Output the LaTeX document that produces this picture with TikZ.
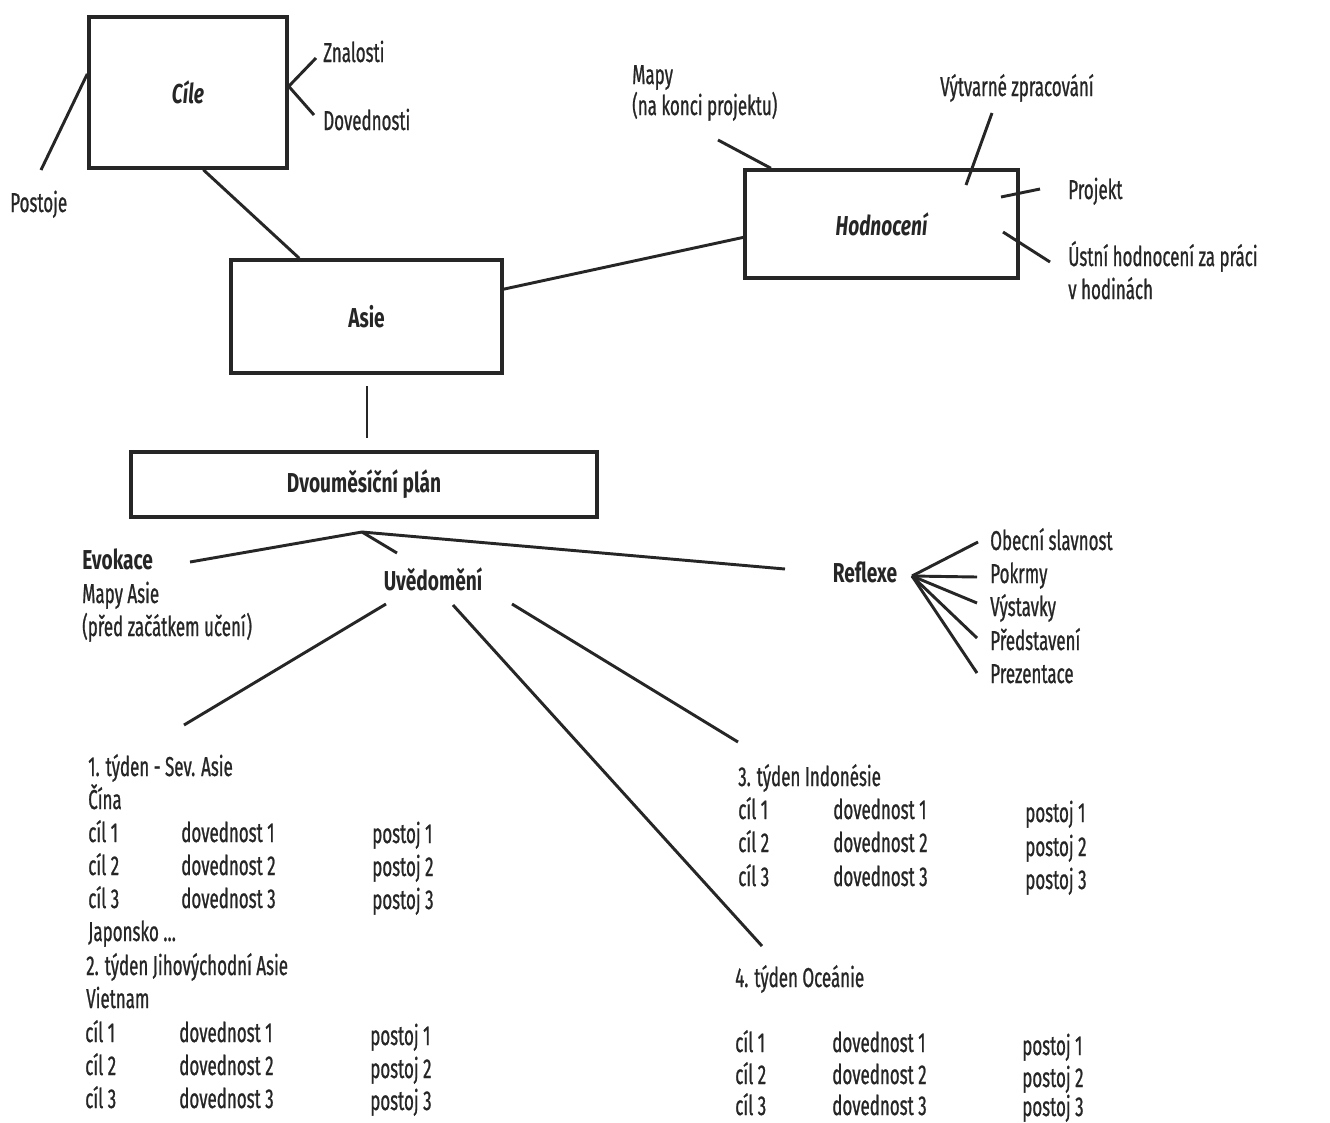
\documentclass[tikz,border=0pt]{standalone}
\usepackage{fontspec}
\setmainfont{Fira Sans}[
  UprightFeatures={FakeStretch=0.62,FakeBold=0.8},
  ItalicFeatures={FakeStretch=0.62},
  BoldFeatures={FakeStretch=0.70},
  BoldItalicFeatures={FakeStretch=0.70}]
\usetikzlibrary{calc}
\definecolor{ink}{HTML}{262626}
\newcommand{\fsz}{\fontsize{20.5}{24}\selectfont}
\begin{document}
\begin{tikzpicture}[x=0.75pt,y=-0.75pt,
  box/.style={draw=ink, line width=2.6pt, inner sep=0pt, text=ink},
  conn/.style={draw=ink, line width=2.2pt},
  lbl/.style={anchor=base west, inner sep=0pt, text=ink, font=\fsz},
  blbl/.style={anchor=base, inner sep=0pt, text=ink, font=\fsz\bfseries},
  bwlbl/.style={anchor=base west, inner sep=0pt, text=ink, font=\fsz\bfseries}]
\fill[white] (0,0) rectangle (1330,1122);
\useasboundingbox (0,0) rectangle (1330,1122);

% ---- boxes
\node[box, minimum width=148.5pt, minimum height=113.25pt, font=\fsz\bfseries\itshape] (cile) at (188,92.5) {Cíle};
\node[box, minimum width=203.25pt, minimum height=84.75pt, font=\fsz\bfseries] (asie) at (366.5,316.5) {Asie};
\node[box, minimum width=204.75pt, minimum height=81pt, font=\fsz\bfseries\itshape] (hodn) at (881.5,224) {Hodnocení};
\node[box, minimum width=349.5pt, minimum height=48.75pt, font=\fsz\bfseries] (plan) at (364,484.5) {Dvouměsíční plán};

% ---- labels around Cíle
\node[lbl] (znal) at (323,62) {Znalosti};
\node[lbl] (dove) at (323,130) {Dovednosti};
\node[lbl] (post) at (10,212) {Postoje};
\coordinate (znalE) at (316,58);
\coordinate (doveE) at (314,115);
\coordinate (postE) at (41,170);
\draw[conn] ($(cile.north east)!0.46!(cile.south east)$) -- (znalE);
\draw[conn] ($(cile.north east)!0.46!(cile.south east)$) -- (doveE);
\draw[conn] ($(cile.north west)!0.38!(cile.south west)$) -- (postE);
\draw[conn] ($(cile.south west)!0.576!(cile.south east)$) -- ($(asie.north west)!0.255!(asie.north east)$);

% ---- Hodnocení
\draw[conn] ($(asie.north east)!0.265!(asie.south east)$) -- ($(hodn.north west)!0.62!(hodn.south west)$);
\node[lbl] (mapy) at (632,84) {Mapy};
\node[lbl] (mapy2) at (632,115) {(na konci projektu)};
\node[lbl] (vytv) at (940,96) {Výtvarné zpracování};
\node[lbl] (proj) at (1068,199) {Projekt};
\node[lbl] (ustn) at (1068,266) {Ústní hodnocení za práci};
\node[lbl] (ustn2) at (1068,299) {v hodinách};
\coordinate (mapyE) at (718,140);
\draw[conn] (mapyE) -- ($(hodn.north west)!0.10!(hodn.north east)$);
\coordinate (vytvA) at (992,113);
\coordinate (vytvB) at (966,185);
\draw[conn] (vytvA) -- (vytvB);
\coordinate (projA) at (1001,197);
\coordinate (projB) at (1040,189);
\draw[conn] (projA) -- (projB);
\coordinate (ustnA) at (1003,232);
\coordinate (ustnB) at (1050,262);
\draw[conn] (ustnA) -- (ustnB);

% ---- Asie to plan
\coordinate (asieD) at (367,386);
\coordinate (planU) at (367,438);
\draw[conn] (asieD) -- (planU);

% ---- below plan
\coordinate (hubP) at (362,532);
\node[bwlbl] (evok) at (82,569) {Evokace};
\node[lbl] (evok2) at (82,603) {Mapy Asie};
\node[lbl] (evok3) at (82,636) {(před začátkem učení)};
\node[blbl] (uved) at (433,590) {Uvědomění};
\node[blbl] (refl) at (865,582) {Reflexe};
\coordinate (evokE) at (190,562);
\coordinate (uvedE) at (397,553);
\coordinate (reflE) at (785,569);
\draw[conn] (hubP) -- (evokE);
\draw[conn] (hubP) -- (uvedE);
\draw[conn] (hubP) -- (reflE);

% ---- Reflexe fan
\coordinate (fan) at (912,576);
\node[lbl] (r1) at (990,550) {Obecní slavnost};
\node[lbl] (r2) at (990,583) {Pokrmy};
\node[lbl] (r3) at (990,616) {Výstavky};
\node[lbl] (r4) at (990,650) {Představení};
\node[lbl] (r5) at (990,683) {Prezentace};
\coordinate (r1e) at (978,542);
\coordinate (r2e) at (977,577);
\coordinate (r3e) at (977,603);
\coordinate (r4e) at (977,638);
\coordinate (r5e) at (977,673);
\foreach \e in {r1e,r2e,r3e,r4e,r5e} \draw[conn] (fan) -- (\e);

% ---- Uvědomění branches
\coordinate (uvA) at (386,604);
\coordinate (uvA2) at (184,725);
\coordinate (uvB) at (453,605);
\coordinate (uvB2) at (762,946);
\coordinate (uvC) at (512,604);
\coordinate (uvC2) at (738,742);
\draw[conn] (uvA) -- (uvA2);
\draw[conn] (uvB) -- (uvB2);
\draw[conn] (uvC) -- (uvC2);

% ---- week 1 & 2
\node[lbl] (w1) at (88,776) {1. týden - Sev. Asie};
\node[lbl] (w1a) at (88,809) {Čína};
\node[lbl] (w1c1) at (88,842) {cíl 1};
\node[lbl] (w1d1) at (181,842) {dovednost 1};
\node[lbl] (w1p1) at (372,843) {postoj 1};
\node[lbl] (w1c2) at (88,875) {cíl 2};
\node[lbl] (w1d2) at (181,875) {dovednost 2};
\node[lbl] (w1p2) at (372,876) {postoj 2};
\node[lbl] (w1c3) at (88,908) {cíl 3};
\node[lbl] (w1d3) at (181,908) {dovednost 3};
\node[lbl] (w1p3) at (372,909) {postoj 3};
\node[lbl] (w1j) at (88,941) {Japonsko \dots};
\node[lbl] (w2) at (86,975) {2. týden Jihovýchodní Asie};
\node[lbl] (w2a) at (86,1008) {Vietnam};
\node[lbl] (w2c1) at (85,1042) {cíl 1};
\node[lbl] (w2d1) at (179,1042) {dovednost 1};
\node[lbl] (w2p1) at (370,1045) {postoj 1};
\node[lbl] (w2c2) at (85,1075) {cíl 2};
\node[lbl] (w2d2) at (179,1075) {dovednost 2};
\node[lbl] (w2p2) at (370,1078) {postoj 2};
\node[lbl] (w2c3) at (85,1108) {cíl 3};
\node[lbl] (w2d3) at (179,1108) {dovednost 3};
\node[lbl] (w2p3) at (370,1110) {postoj 3};

% ---- week 3
\node[lbl] (w3) at (738,786) {3. týden Indonésie};
\node[lbl] (w3c1) at (738,819) {cíl 1};
\node[lbl] (w3d1) at (833,819) {dovednost 1};
\node[lbl] (w3p1) at (1025,822) {postoj 1};
\node[lbl] (w3c2) at (738,852) {cíl 2};
\node[lbl] (w3d2) at (833,852) {dovednost 2};
\node[lbl] (w3p2) at (1025,856) {postoj 2};
\node[lbl] (w3c3) at (738,886) {cíl 3};
\node[lbl] (w3d3) at (833,886) {dovednost 3};
\node[lbl] (w3p3) at (1025,889) {postoj 3};

% ---- week 4
\node[lbl] (w4) at (735,987) {4. týden Oceánie};
\node[lbl] (w4c1) at (735,1052) {cíl 1};
\node[lbl] (w4d1) at (832,1052) {dovednost 1};
\node[lbl] (w4p1) at (1022,1055) {postoj 1};
\node[lbl] (w4c2) at (735,1084) {cíl 2};
\node[lbl] (w4d2) at (832,1084) {dovednost 2};
\node[lbl] (w4p2) at (1022,1087) {postoj 2};
\node[lbl] (w4c3) at (735,1115) {cíl 3};
\node[lbl] (w4d3) at (832,1115) {dovednost 3};
\node[lbl] (w4p3) at (1022,1116) {postoj 3};
\end{tikzpicture}
\end{document}
